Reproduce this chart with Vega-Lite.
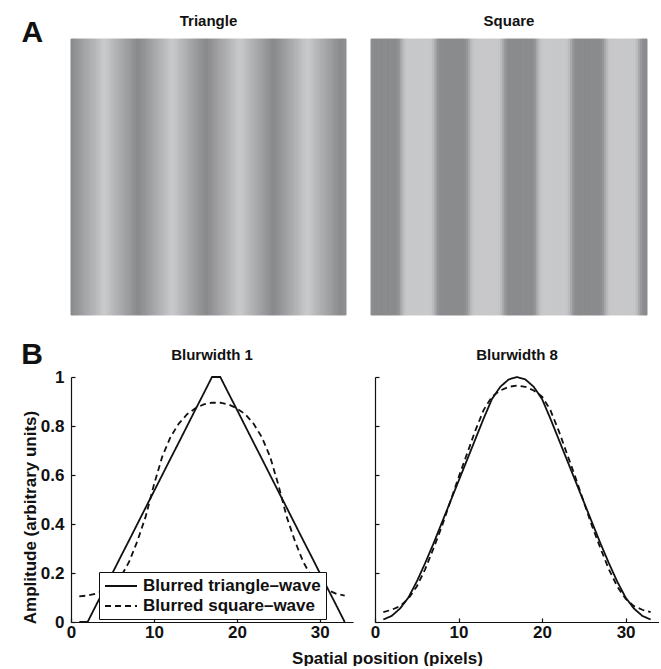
{
  "$schema": "https://vega.github.io/schema/vega-lite/v6.json",
  "padding": {"left": 21, "top": 13, "right": 0, "bottom": 0},
  "background": "white",
  "config": {
    "font": "Liberation Sans",
    "view": {"stroke": null},
    "title": {"font": "Liberation Sans", "fontWeight": "bold", "color": "#111111"},
    "axis": {
      "labelFont": "Liberation Sans", "labelFontWeight": "bold", "labelFontSize": 17, "labelColor": "#111111",
      "titleFont": "Liberation Sans", "titleFontWeight": "bold", "titleFontSize": 17, "titleColor": "#111111",
      "domainColor": "#111111", "tickColor": "#111111", "domainWidth": 1.2, "tickWidth": 1.2,
      "tickSize": -4, "grid": false, "labelPadding": 8, "labelFlush": false, "labelOverlap": false
    }
  },
  "datasets": {
    "tri": [
      {"c":0,"v":0},{"c":1,"v":0.067},{"c":2,"v":0.133},{"c":3,"v":0.2},{"c":4,"v":0.267},{"c":5,"v":0.333},{"c":6,"v":0.4},{"c":7,"v":0.467},{"c":8,"v":0.533},{"c":9,"v":0.6},{"c":10,"v":0.667},{"c":11,"v":0.733},{"c":12,"v":0.8},{"c":13,"v":0.867},{"c":14,"v":0.933},{"c":15,"v":1},{"c":16,"v":1},{"c":17,"v":0.933},{"c":18,"v":0.867},{"c":19,"v":0.8},{"c":20,"v":0.733},{"c":21,"v":0.667},{"c":22,"v":0.6},{"c":23,"v":0.533},{"c":24,"v":0.467},{"c":25,"v":0.4},{"c":26,"v":0.333},{"c":27,"v":0.267},{"c":28,"v":0.2},{"c":29,"v":0.133},{"c":30,"v":0.067},{"c":31,"v":0},
      {"c":32,"v":0},{"c":33,"v":0.067},{"c":34,"v":0.133},{"c":35,"v":0.2},{"c":36,"v":0.267},{"c":37,"v":0.333},{"c":38,"v":0.4},{"c":39,"v":0.467},{"c":40,"v":0.533},{"c":41,"v":0.6},{"c":42,"v":0.667},{"c":43,"v":0.733},{"c":44,"v":0.8},{"c":45,"v":0.867},{"c":46,"v":0.933},{"c":47,"v":1},{"c":48,"v":1},{"c":49,"v":0.933},{"c":50,"v":0.867},{"c":51,"v":0.8},{"c":52,"v":0.733},{"c":53,"v":0.667},{"c":54,"v":0.6},{"c":55,"v":0.533},{"c":56,"v":0.467},{"c":57,"v":0.4},{"c":58,"v":0.333},{"c":59,"v":0.267},{"c":60,"v":0.2},{"c":61,"v":0.133},{"c":62,"v":0.067},{"c":63,"v":0},
      {"c":64,"v":0},{"c":65,"v":0.067},{"c":66,"v":0.133},{"c":67,"v":0.2},{"c":68,"v":0.267},{"c":69,"v":0.333},{"c":70,"v":0.4},{"c":71,"v":0.467},{"c":72,"v":0.533},{"c":73,"v":0.6},{"c":74,"v":0.667},{"c":75,"v":0.733},{"c":76,"v":0.8},{"c":77,"v":0.867},{"c":78,"v":0.933},{"c":79,"v":1},{"c":80,"v":1},{"c":81,"v":0.933},{"c":82,"v":0.867},{"c":83,"v":0.8},{"c":84,"v":0.733},{"c":85,"v":0.667},{"c":86,"v":0.6},{"c":87,"v":0.533},{"c":88,"v":0.467},{"c":89,"v":0.4},{"c":90,"v":0.333},{"c":91,"v":0.267},{"c":92,"v":0.2},{"c":93,"v":0.133},{"c":94,"v":0.067},{"c":95,"v":0},
      {"c":96,"v":0},{"c":97,"v":0.067},{"c":98,"v":0.133},{"c":99,"v":0.2},{"c":100,"v":0.267},{"c":101,"v":0.333},{"c":102,"v":0.4},{"c":103,"v":0.467},{"c":104,"v":0.533},{"c":105,"v":0.6},{"c":106,"v":0.667},{"c":107,"v":0.733},{"c":108,"v":0.8},{"c":109,"v":0.867},{"c":110,"v":0.933},{"c":111,"v":1},{"c":112,"v":1},{"c":113,"v":0.933},{"c":114,"v":0.867},{"c":115,"v":0.8},{"c":116,"v":0.733},{"c":117,"v":0.667},{"c":118,"v":0.6},{"c":119,"v":0.533},{"c":120,"v":0.467},{"c":121,"v":0.4},{"c":122,"v":0.333},{"c":123,"v":0.267},{"c":124,"v":0.2},{"c":125,"v":0.133},{"c":126,"v":0.067},{"c":127,"v":0},
      {"c":128,"v":0},{"c":129,"v":0.067}
    ],
    "sq": [
      {"c":0,"v":0.05},{"c":1,"v":0},{"c":2,"v":0},{"c":3,"v":0},{"c":4,"v":0},{"c":5,"v":0},{"c":6,"v":0},{"c":7,"v":0},{"c":8,"v":0},{"c":9,"v":0},{"c":10,"v":0},{"c":11,"v":0},{"c":12,"v":0.05},{"c":13,"v":0.2},{"c":14,"v":0.5},{"c":15,"v":0.8},{"c":16,"v":0.95},
      {"c":17,"v":1},{"c":18,"v":1},{"c":19,"v":1},{"c":20,"v":1},{"c":21,"v":1},{"c":22,"v":1},{"c":23,"v":1},{"c":24,"v":1},{"c":25,"v":1},{"c":26,"v":1},{"c":27,"v":1},{"c":28,"v":0.95},{"c":29,"v":0.8},{"c":30,"v":0.5},{"c":31,"v":0.2},{"c":32,"v":0.05},
      {"c":33,"v":0},{"c":34,"v":0},{"c":35,"v":0},{"c":36,"v":0},{"c":37,"v":0},{"c":38,"v":0},{"c":39,"v":0},{"c":40,"v":0},{"c":41,"v":0},{"c":42,"v":0},{"c":43,"v":0},{"c":44,"v":0.05},{"c":45,"v":0.2},{"c":46,"v":0.5},{"c":47,"v":0.8},{"c":48,"v":0.95},
      {"c":49,"v":1},{"c":50,"v":1},{"c":51,"v":1},{"c":52,"v":1},{"c":53,"v":1},{"c":54,"v":1},{"c":55,"v":1},{"c":56,"v":1},{"c":57,"v":1},{"c":58,"v":1},{"c":59,"v":1},{"c":60,"v":0.95},{"c":61,"v":0.8},{"c":62,"v":0.5},{"c":63,"v":0.2},{"c":64,"v":0.05},
      {"c":65,"v":0},{"c":66,"v":0},{"c":67,"v":0},{"c":68,"v":0},{"c":69,"v":0},{"c":70,"v":0},{"c":71,"v":0},{"c":72,"v":0},{"c":73,"v":0},{"c":74,"v":0},{"c":75,"v":0},{"c":76,"v":0.05},{"c":77,"v":0.2},{"c":78,"v":0.5},{"c":79,"v":0.8},{"c":80,"v":0.95},
      {"c":81,"v":1},{"c":82,"v":1},{"c":83,"v":1},{"c":84,"v":1},{"c":85,"v":1},{"c":86,"v":1},{"c":87,"v":1},{"c":88,"v":1},{"c":89,"v":1},{"c":90,"v":1},{"c":91,"v":1},{"c":92,"v":0.95},{"c":93,"v":0.8},{"c":94,"v":0.5},{"c":95,"v":0.2},{"c":96,"v":0.05},
      {"c":97,"v":0},{"c":98,"v":0},{"c":99,"v":0},{"c":100,"v":0},{"c":101,"v":0},{"c":102,"v":0},{"c":103,"v":0},{"c":104,"v":0},{"c":105,"v":0},{"c":106,"v":0},{"c":107,"v":0},{"c":108,"v":0.05},{"c":109,"v":0.2},{"c":110,"v":0.5},{"c":111,"v":0.8},{"c":112,"v":0.95},
      {"c":113,"v":1},{"c":114,"v":1},{"c":115,"v":1},{"c":116,"v":1},{"c":117,"v":1},{"c":118,"v":1},{"c":119,"v":1},{"c":120,"v":1},{"c":121,"v":1},{"c":122,"v":1},{"c":123,"v":1},{"c":124,"v":0.95},{"c":125,"v":0.8},{"c":126,"v":0.5},{"c":127,"v":0.2},{"c":128,"v":0.05},{"c":129,"v":0}
    ],
    "b1": [
      {"x":1,"y":0,"s":"Blurred triangle–wave"},{"x":2,"y":0,"s":"Blurred triangle–wave"},{"x":3,"y":0.067,"s":"Blurred triangle–wave"},{"x":4,"y":0.133,"s":"Blurred triangle–wave"},{"x":5,"y":0.2,"s":"Blurred triangle–wave"},{"x":6,"y":0.267,"s":"Blurred triangle–wave"},{"x":7,"y":0.333,"s":"Blurred triangle–wave"},{"x":8,"y":0.4,"s":"Blurred triangle–wave"},{"x":9,"y":0.467,"s":"Blurred triangle–wave"},{"x":10,"y":0.533,"s":"Blurred triangle–wave"},{"x":11,"y":0.6,"s":"Blurred triangle–wave"},{"x":12,"y":0.667,"s":"Blurred triangle–wave"},{"x":13,"y":0.733,"s":"Blurred triangle–wave"},{"x":14,"y":0.8,"s":"Blurred triangle–wave"},{"x":15,"y":0.867,"s":"Blurred triangle–wave"},{"x":16,"y":0.933,"s":"Blurred triangle–wave"},{"x":17,"y":1,"s":"Blurred triangle–wave"},{"x":18,"y":1,"s":"Blurred triangle–wave"},{"x":19,"y":0.933,"s":"Blurred triangle–wave"},{"x":20,"y":0.867,"s":"Blurred triangle–wave"},{"x":21,"y":0.8,"s":"Blurred triangle–wave"},{"x":22,"y":0.733,"s":"Blurred triangle–wave"},{"x":23,"y":0.667,"s":"Blurred triangle–wave"},{"x":24,"y":0.6,"s":"Blurred triangle–wave"},{"x":25,"y":0.533,"s":"Blurred triangle–wave"},{"x":26,"y":0.467,"s":"Blurred triangle–wave"},{"x":27,"y":0.4,"s":"Blurred triangle–wave"},{"x":28,"y":0.333,"s":"Blurred triangle–wave"},{"x":29,"y":0.267,"s":"Blurred triangle–wave"},{"x":30,"y":0.2,"s":"Blurred triangle–wave"},{"x":31,"y":0.133,"s":"Blurred triangle–wave"},{"x":32,"y":0.067,"s":"Blurred triangle–wave"},{"x":33,"y":0,"s":"Blurred triangle–wave"},
      {"x":1,"y":0.105,"s":"Blurred square–wave"},{"x":2,"y":0.108,"s":"Blurred square–wave"},{"x":3,"y":0.115,"s":"Blurred square–wave"},{"x":4,"y":0.13,"s":"Blurred square–wave"},{"x":5,"y":0.15,"s":"Blurred square–wave"},{"x":6,"y":0.185,"s":"Blurred square–wave"},{"x":7,"y":0.245,"s":"Blurred square–wave"},{"x":8,"y":0.33,"s":"Blurred square–wave"},{"x":9,"y":0.43,"s":"Blurred square–wave"},{"x":10,"y":0.56,"s":"Blurred square–wave"},{"x":11,"y":0.675,"s":"Blurred square–wave"},{"x":12,"y":0.755,"s":"Blurred square–wave"},{"x":13,"y":0.81,"s":"Blurred square–wave"},{"x":14,"y":0.848,"s":"Blurred square–wave"},{"x":15,"y":0.872,"s":"Blurred square–wave"},{"x":16,"y":0.888,"s":"Blurred square–wave"},{"x":17,"y":0.895,"s":"Blurred square–wave"},{"x":18,"y":0.895,"s":"Blurred square–wave"},{"x":19,"y":0.888,"s":"Blurred square–wave"},{"x":20,"y":0.872,"s":"Blurred square–wave"},{"x":21,"y":0.848,"s":"Blurred square–wave"},{"x":22,"y":0.81,"s":"Blurred square–wave"},{"x":23,"y":0.755,"s":"Blurred square–wave"},{"x":24,"y":0.675,"s":"Blurred square–wave"},{"x":25,"y":0.56,"s":"Blurred square–wave"},{"x":26,"y":0.43,"s":"Blurred square–wave"},{"x":27,"y":0.33,"s":"Blurred square–wave"},{"x":28,"y":0.245,"s":"Blurred square–wave"},{"x":29,"y":0.185,"s":"Blurred square–wave"},{"x":30,"y":0.15,"s":"Blurred square–wave"},{"x":31,"y":0.13,"s":"Blurred square–wave"},{"x":32,"y":0.115,"s":"Blurred square–wave"},{"x":33,"y":0.108,"s":"Blurred square–wave"}
    ],
    "b8": [
      {"x":1,"y":0.01,"s":"Blurred triangle–wave"},{"x":2,"y":0.025,"s":"Blurred triangle–wave"},{"x":3,"y":0.055,"s":"Blurred triangle–wave"},{"x":4,"y":0.1,"s":"Blurred triangle–wave"},{"x":5,"y":0.165,"s":"Blurred triangle–wave"},{"x":6,"y":0.24,"s":"Blurred triangle–wave"},{"x":7,"y":0.32,"s":"Blurred triangle–wave"},{"x":8,"y":0.405,"s":"Blurred triangle–wave"},{"x":9,"y":0.49,"s":"Blurred triangle–wave"},{"x":10,"y":0.575,"s":"Blurred triangle–wave"},{"x":11,"y":0.66,"s":"Blurred triangle–wave"},{"x":12,"y":0.745,"s":"Blurred triangle–wave"},{"x":13,"y":0.83,"s":"Blurred triangle–wave"},{"x":14,"y":0.91,"s":"Blurred triangle–wave"},{"x":15,"y":0.96,"s":"Blurred triangle–wave"},{"x":16,"y":0.99,"s":"Blurred triangle–wave"},{"x":17,"y":1,"s":"Blurred triangle–wave"},{"x":18,"y":0.99,"s":"Blurred triangle–wave"},{"x":19,"y":0.96,"s":"Blurred triangle–wave"},{"x":20,"y":0.91,"s":"Blurred triangle–wave"},{"x":21,"y":0.83,"s":"Blurred triangle–wave"},{"x":22,"y":0.745,"s":"Blurred triangle–wave"},{"x":23,"y":0.66,"s":"Blurred triangle–wave"},{"x":24,"y":0.575,"s":"Blurred triangle–wave"},{"x":25,"y":0.49,"s":"Blurred triangle–wave"},{"x":26,"y":0.405,"s":"Blurred triangle–wave"},{"x":27,"y":0.32,"s":"Blurred triangle–wave"},{"x":28,"y":0.24,"s":"Blurred triangle–wave"},{"x":29,"y":0.165,"s":"Blurred triangle–wave"},{"x":30,"y":0.1,"s":"Blurred triangle–wave"},{"x":31,"y":0.055,"s":"Blurred triangle–wave"},{"x":32,"y":0.025,"s":"Blurred triangle–wave"},{"x":33,"y":0.01,"s":"Blurred triangle–wave"},
      {"x":1,"y":0.04,"s":"Blurred square–wave"},{"x":2,"y":0.05,"s":"Blurred square–wave"},{"x":3,"y":0.065,"s":"Blurred square–wave"},{"x":4,"y":0.095,"s":"Blurred square–wave"},{"x":5,"y":0.145,"s":"Blurred square–wave"},{"x":6,"y":0.215,"s":"Blurred square–wave"},{"x":7,"y":0.3,"s":"Blurred square–wave"},{"x":8,"y":0.39,"s":"Blurred square–wave"},{"x":9,"y":0.49,"s":"Blurred square–wave"},{"x":10,"y":0.59,"s":"Blurred square–wave"},{"x":11,"y":0.685,"s":"Blurred square–wave"},{"x":12,"y":0.78,"s":"Blurred square–wave"},{"x":13,"y":0.865,"s":"Blurred square–wave"},{"x":14,"y":0.92,"s":"Blurred square–wave"},{"x":15,"y":0.945,"s":"Blurred square–wave"},{"x":16,"y":0.96,"s":"Blurred square–wave"},{"x":17,"y":0.965,"s":"Blurred square–wave"},{"x":18,"y":0.96,"s":"Blurred square–wave"},{"x":19,"y":0.945,"s":"Blurred square–wave"},{"x":20,"y":0.92,"s":"Blurred square–wave"},{"x":21,"y":0.865,"s":"Blurred square–wave"},{"x":22,"y":0.78,"s":"Blurred square–wave"},{"x":23,"y":0.685,"s":"Blurred square–wave"},{"x":24,"y":0.59,"s":"Blurred square–wave"},{"x":25,"y":0.49,"s":"Blurred square–wave"},{"x":26,"y":0.39,"s":"Blurred square–wave"},{"x":27,"y":0.3,"s":"Blurred square–wave"},{"x":28,"y":0.215,"s":"Blurred square–wave"},{"x":29,"y":0.145,"s":"Blurred square–wave"},{"x":30,"y":0.095,"s":"Blurred square–wave"},{"x":31,"y":0.065,"s":"Blurred square–wave"},{"x":32,"y":0.05,"s":"Blurred square–wave"},{"x":33,"y":0.04,"s":"Blurred square–wave"}
    ]
  },
  "spacing": 24,
  "vconcat": [
    {
      "title": {"text": "A", "fontSize": 30, "anchor": "start", "dx": -49, "dy": 38},
      "spacing": 23,
      "hconcat": [
        {
          "title": {"text": "Triangle", "fontSize": 15, "offset": 10, "anchor": "middle"},
          "data": {"name": "tri"},
          "width": 275, "height": 276,
          "mark": {"type": "rect", "strokeWidth": 1},
          "encoding": {
            "x": {"field": "c", "type": "ordinal", "axis": null, "scale": {"paddingInner": 0, "paddingOuter": 0}},
            "color": {"field": "v", "type": "quantitative", "scale": {"domain": [0, 1], "range": ["#8a8b8d", "#c7c8ca"]}, "legend": null},
            "stroke": {"field": "v", "type": "quantitative", "scale": {"domain": [0, 1], "range": ["#8a8b8d", "#c7c8ca"]}, "legend": null}
          }
        },
        {
          "title": {"text": "Square", "fontSize": 15, "offset": 10, "anchor": "middle"},
          "data": {"name": "sq"},
          "width": 276, "height": 276,
          "mark": {"type": "rect", "strokeWidth": 1},
          "encoding": {
            "x": {"field": "c", "type": "ordinal", "axis": null, "scale": {"paddingInner": 0, "paddingOuter": 0}},
            "color": {"field": "v", "type": "quantitative", "scale": {"domain": [0, 1], "range": ["#8a8b8d", "#c7c8ca"]}, "legend": null},
            "stroke": {"field": "v", "type": "quantitative", "scale": {"domain": [0, 1], "range": ["#8a8b8d", "#c7c8ca"]}, "legend": null}
          }
        }
      ]
    },
    {
      "title": {"text": "B", "fontSize": 30, "anchor": "start", "dx": 0, "dy": 26},
      "spacing": 22,
      "bounds": "flush",
      "resolve": {"scale": {"strokeDash": "independent"}, "legend": {"strokeDash": "independent"}},
      "hconcat": [
        {
          "title": {"text": "Blurwidth 1", "fontSize": 15, "offset": 5, "anchor": "middle"},
          "data": {"name": "b1"},
          "width": 282, "height": 245,
          "mark": {"type": "line", "color": "#111111", "strokeWidth": 1.8},
          "encoding": {
            "x": {"field": "x", "type": "quantitative", "scale": {"domain": [0, 34], "nice": false},
                  "axis": {"values": [0, 10, 20, 30], "labelPadding": 6, "title": "Spatial position (pixels)", "titleX": 316, "titlePadding": 10}},
            "y": {"field": "y", "type": "quantitative", "scale": {"domain": [0, 1], "nice": false},
                  "axis": {"values": [0, 0.2, 0.4, 0.6, 0.8, 1], "format": "~g", "labelPadding": 11, "title": "Amplitude (arbitrary units)", "titleY": 140, "titlePadding": 1}},
            "strokeDash": {"field": "s", "type": "nominal",
              "scale": {"domain": ["Blurred triangle–wave", "Blurred square–wave"], "range": [[1, 0], [6, 4]]},
              "legend": {"orient": "none", "legendX": 28, "legendY": 195, "title": null, "strokeColor": "#111111", "fillColor": "white", "padding": 5,
                         "labelFont": "Liberation Sans", "labelFontSize": 17, "labelFontWeight": "bold", "labelColor": "#111111", "labelLimit": 400,
                         "symbolType": "M-1,0H3", "symbolSize": 256, "symbolStrokeWidth": 1.8, "symbolStrokeColor": "#111111", "labelOffset": 21, "rowPadding": 3}}
          }
        },
        {
          "title": {"text": "Blurwidth 8", "fontSize": 15, "offset": 10, "anchor": "middle"},
          "data": {"name": "b8"},
          "width": 284, "height": 245,
          "mark": {"type": "line", "color": "#111111", "strokeWidth": 1.8},
          "encoding": {
            "x": {"field": "x", "type": "quantitative", "scale": {"domain": [0, 34], "nice": false},
                  "axis": {"values": [0, 10, 20, 30], "labelPadding": 6, "title": null}},
            "y": {"field": "y", "type": "quantitative", "scale": {"domain": [0, 1], "nice": false},
                  "axis": {"values": [0, 0.2, 0.4, 0.6, 0.8, 1], "labels": false, "title": null}},
            "strokeDash": {"field": "s", "type": "nominal",
              "scale": {"domain": ["Blurred triangle–wave", "Blurred square–wave"], "range": [[1, 0], [6, 4]]},
              "legend": null}
          }
        }
      ]
    }
  ]
}
